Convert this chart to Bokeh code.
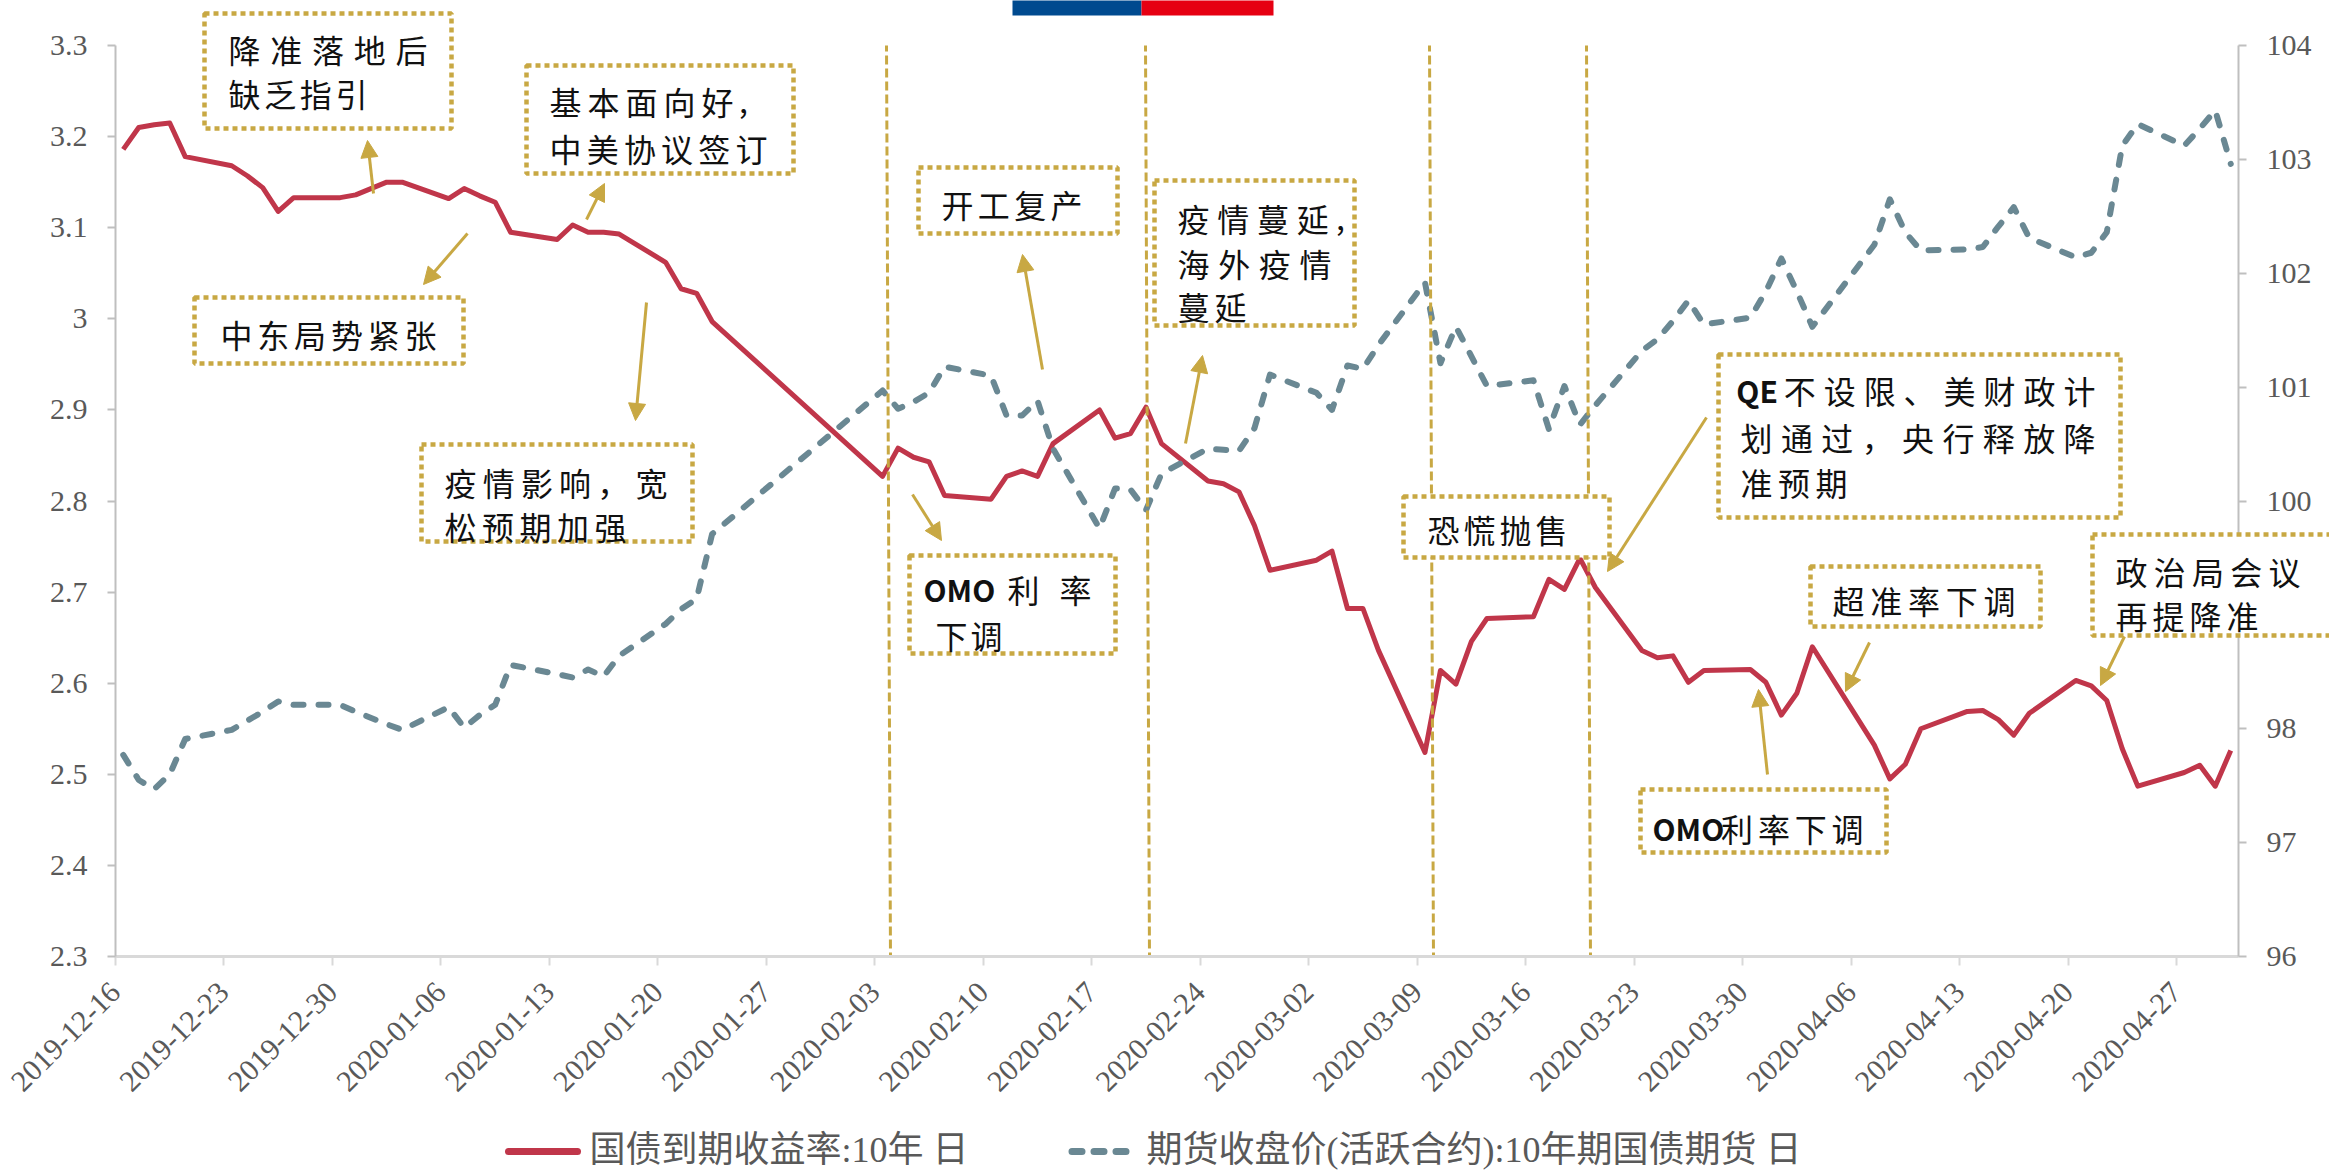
import pandas as pd
from math import pi
from bokeh.plotting import figure
from bokeh.models import (Range1d, LinearAxis, FixedTicker, DatetimeTickFormatter, CustomJSTickFormatter,
                          Arrow, NormalHead, ColumnDataSource)
from bokeh.core.properties import value
from bokeh.embed import file_html
from bokeh.resources import INLINE

# ---------------- data ----------------
dates = [
    "2019-12-16", "2019-12-17", "2019-12-18", "2019-12-19", "2019-12-20",
    "2019-12-23", "2019-12-24", "2019-12-25", "2019-12-26", "2019-12-27",
    "2019-12-30", "2019-12-31", "2020-01-02", "2020-01-03",
    "2020-01-06", "2020-01-07", "2020-01-08", "2020-01-09", "2020-01-10",
    "2020-01-13", "2020-01-14", "2020-01-15", "2020-01-16", "2020-01-17",
    "2020-01-20", "2020-01-21", "2020-01-22", "2020-01-23",
    "2020-02-03", "2020-02-04", "2020-02-05", "2020-02-06", "2020-02-07",
    "2020-02-10", "2020-02-11", "2020-02-12", "2020-02-13", "2020-02-14",
    "2020-02-17", "2020-02-18", "2020-02-19", "2020-02-20", "2020-02-21",
    "2020-02-24", "2020-02-25", "2020-02-26", "2020-02-27", "2020-02-28",
    "2020-03-02", "2020-03-03", "2020-03-04", "2020-03-05", "2020-03-06",
    "2020-03-09", "2020-03-10", "2020-03-11", "2020-03-12", "2020-03-13",
    "2020-03-16", "2020-03-17", "2020-03-18", "2020-03-19", "2020-03-20",
    "2020-03-23", "2020-03-24", "2020-03-25", "2020-03-26", "2020-03-27",
    "2020-03-30", "2020-03-31", "2020-04-01", "2020-04-02", "2020-04-03",
    "2020-04-07", "2020-04-08", "2020-04-09", "2020-04-10",
    "2020-04-13", "2020-04-14", "2020-04-15", "2020-04-16", "2020-04-17",
    "2020-04-20", "2020-04-21", "2020-04-22", "2020-04-23", "2020-04-24",
    "2020-04-27", "2020-04-28", "2020-04-29", "2020-04-30",
]

yield_10y = [
    3.186, 3.210, 3.213, 3.215, 3.178,
    3.168, 3.157, 3.144, 3.118, 3.133,
    3.133, 3.136, 3.150, 3.150,
    3.132, 3.143, 3.135, 3.128, 3.095,
    3.087, 3.103, 3.095, 3.095, 3.093,
    3.062, 3.033, 3.028, 2.997,
    2.827, 2.858, 2.848, 2.843, 2.806,
    2.802, 2.827, 2.833, 2.827, 2.863,
    2.900, 2.869, 2.874, 2.903, 2.863,
    2.822, 2.819, 2.810, 2.773, 2.724,
    2.735, 2.745, 2.682, 2.682, 2.636,
    2.524, 2.614, 2.599, 2.646, 2.671,
    2.673, 2.714, 2.703, 2.737, 2.705,
    2.636, 2.628, 2.630, 2.601, 2.614,
    2.615, 2.601, 2.565, 2.589, 2.640,
    2.532, 2.495, 2.511, 2.550,
    2.569, 2.570, 2.560, 2.543, 2.567,
    2.603, 2.597, 2.581, 2.528, 2.487,
    2.502, 2.510, 2.487, 2.526,
]

futures_10y = [
    97.77, 97.55, 97.47, 97.60, 97.91,
    97.99, 98.07, 98.15, 98.24, 98.21,
    98.21, 98.15, 98.04, 97.99,
    98.19, 98.01, 98.12, 98.21, 98.56,
    98.48, 98.45, 98.52, 98.46, 98.64,
    98.92, 99.05, 99.14, 99.71,
    100.97, 100.81, 100.87, 100.95, 101.18,
    101.10, 100.75, 100.75, 100.88, 100.46,
    99.76, 100.11, 100.10, 99.92, 100.24,
    100.46, 100.45, 100.44, 100.64, 101.11,
    100.95, 100.80, 101.19, 101.16, 101.37,
    101.92, 101.21, 101.53, 101.27, 101.01,
    101.06, 100.63, 101.01, 100.67, 100.84,
    101.32, 101.42, 101.58, 101.76, 101.55,
    101.61, 101.84, 102.13, 101.84, 101.53,
    102.25, 102.65, 102.36, 102.20,
    102.21, 102.23, 102.41, 102.58, 102.31,
    102.14, 102.18, 102.36, 103.12, 103.31,
    103.12, 103.27, 103.43, 102.96,
]

tick_dates = [
    "2019-12-16", "2019-12-23", "2019-12-30", "2020-01-06", "2020-01-13",
    "2020-01-20", "2020-01-27", "2020-02-03", "2020-02-10", "2020-02-17",
    "2020-02-24", "2020-03-02", "2020-03-09", "2020-03-16", "2020-03-23",
    "2020-03-30", "2020-04-06", "2020-04-13", "2020-04-20", "2020-04-27",
]
left_ticks = [2.3, 2.4, 2.5, 2.6, 2.7, 2.8, 2.9, 3.0, 3.1, 3.2, 3.3]
right_ticks = [96, 97, 98, 99, 100, 101, 102, 103, 104]
series_names = ["国债到期收益率:10年 日", "期货收盘价(活跃合约):10年期国债期货 日"]

# ---------------- styling / layout ----------------
RED = "#C0364A"
GREY = "#6A8893"
GOLD = "#C8A843"
AXIS_GREY = "#BFBFBF"
LABEL_GREY = "#595959"
CJK = "Noto Sans CJK SC"
SERIF_CJK = "'Liberation Serif', 'Noto Sans CJK SC'"

W, H = 2329, 1170
FL, FT = 115, 45
FW, FH = 2123, 911
MB_R = W - FL - FW
MB_B = H - FT - FH

def ms(s):
    return pd.Timestamp(s).value / 1e6

x0_ms = ms("2019-12-16")
x1_ms = ms("2020-05-01")
y_lo, y_hi = 2.3, 3.3

def X(px):  # page pixel -> data x (ms)
    return x0_ms + (px - FL) / FW * (x1_ms - x0_ms)

def Y(py):  # page pixel -> left-axis data value
    return y_hi - (py - FT) / FH * (y_hi - y_lo)

# points sit in the middle of each day slot
xs = [ms(d) + 12 * 3600 * 1000 for d in dates]

p = figure(width=W, height=H, x_axis_type="datetime",
           x_range=Range1d(x0_ms, x1_ms), y_range=Range1d(y_lo, y_hi),
           output_backend="svg", toolbar_location=None,
           min_border_left=FL, min_border_right=MB_R,
           min_border_top=FT, min_border_bottom=MB_B)
p.extra_y_ranges = {"right": Range1d(96, 104)}
p.outline_line_color = None
p.xgrid.visible = False
p.ygrid.visible = False
p.background_fill_color = "white"
p.border_fill_color = "white"

# axes
p.yaxis[0].ticker = FixedTicker(ticks=left_ticks)
p.yaxis[0].formatter = CustomJSTickFormatter(code="return (Math.round(tick*10)/10).toString();")

ax_r = LinearAxis(y_range_name="right", ticker=FixedTicker(ticks=right_ticks))
p.add_layout(ax_r, "right")

for ax in [p.yaxis[0], ax_r]:
    ax.axis_line_color = AXIS_GREY
    ax.axis_line_width = 2
    ax.major_tick_line_color = AXIS_GREY
    ax.major_tick_line_width = 2
    ax.major_tick_out = 8
    ax.major_tick_in = 0
    ax.minor_tick_line_color = None
    ax.major_label_text_font = "Liberation Serif"
    ax.major_label_text_font_size = "30px"
    ax.major_label_text_color = LABEL_GREY
    ax.major_label_standoff = 20

xa = p.xaxis[0]
xa.ticker = FixedTicker(ticks=[ms(d) for d in tick_dates])
xa.formatter = DatetimeTickFormatter(days="%Y-%m-%d", months="%Y-%m-%d", years="%Y-%m-%d")
xa.axis_line_color = "#D9D9D9"
xa.axis_line_width = 3
xa.major_tick_line_color = "#D9D9D9"
xa.major_tick_line_width = 2
xa.major_tick_out = 9
xa.major_tick_in = 0
xa.minor_tick_line_color = None
xa.major_label_orientation = pi / 4
xa.major_label_text_font = "Liberation Serif"
xa.major_label_text_font_size = "30px"
xa.major_label_text_color = LABEL_GREY
xa.major_label_standoff = 22

# series
r_red = p.line(xs, yield_10y, line_color=RED, line_width=5, line_join="round")
r_grey = p.line(xs, futures_10y, y_range_name="right", line_color=GREY, line_width=6,
                line_dash="10 15", line_cap="round", line_join="round")

# event lines (dashed gold verticals), page px: top x, bottom x
event_lines = [(886, 890), (1145, 1149), (1429, 1433), (1586, 1590)]
p.segment(x0=[X(a) for a, b in event_lines], y0=[Y(42)] * 4,
          x1=[X(b) for a, b in event_lines], y1=[Y(960)] * 4,
          line_color=GOLD, line_width=3, line_dash="9 4")

# arrows (page px tail -> tip)
arrows = [
    ((373, 193), (367, 140)),
    ((586, 219), (604, 183)),
    ((467, 233), (423, 284)),
    ((646, 302), (635, 420)),
    ((1042, 369), (1022, 254)),
    ((1185, 443), (1202, 355)),
    ((912, 494), (941, 540)),
    ((1706, 417), (1607, 571)),
    ((1869, 642), (1845, 691)),
    ((1767, 774), (1758, 689)),
    ((2124, 636), (2100, 685)),
]
for (tx, ty), (hx, hy) in arrows:
    p.add_layout(Arrow(end=NormalHead(size=17, fill_color=GOLD, line_color=GOLD, line_width=1),
                       x_start=X(tx), y_start=Y(ty), x_end=X(hx), y_end=Y(hy),
                       line_color=GOLD, line_width=3))

# top logo bar (overlay level so it is not clipped to the frame)
p.quad(left=[X(1012), X(1141)], right=[X(1141), X(1273)], top=[Y(0)] * 2, bottom=[Y(15)] * 2,
       fill_color=["#004A8F", "#E60012"], line_color=None, level="overlay")

# annotation boxes (page px left, right, top, bottom)
boxes = [
    (204, 451, 13, 128), (526, 793, 65, 173), (194, 463, 297, 363),
    (421, 692, 444, 541), (918, 1117, 167, 233), (1154, 1354, 180, 325),
    (909, 1115, 555, 653), (1403, 1609, 496, 557), (1718, 2120, 354, 517),
    (1810, 2040, 566, 626), (1640, 1886, 789, 852), (2092, 2345, 534, 635),
]
p.quad(left=[X(b[0]) for b in boxes], right=[X(b[1]) for b in boxes],
       top=[Y(b[2]) for b in boxes], bottom=[Y(b[3]) for b in boxes],
       fill_color="white", line_color=GOLD, line_width=4.5, line_dash="5 4", level="overlay")

# annotation text lines: tokens, left px, right px, centre y px
FS = 32
text_lines = [
    (list("降准落地后"), 228, 427, 48),
    (list("缺乏指引"), 228, 367, 92),
    (list("基本面向好") + [","], 549, 747, 100),
    (list("中美协议签订"), 549, 767, 147),
    (list("中东局势紧张"), 220, 436, 333),
    (list("疫情影响，宽"), 444, 667, 481),
    (list("松预期加强"), 444, 626, 525),
    (list("开工复产"), 941, 1082, 203),
    (list("疫情蔓延") + [","], 1177, 1344, 217),
    (list("海外疫情"), 1177, 1331, 262),
    (list("蔓延"), 1177, 1246, 305),
    (["OMO", "利", "率"], 931, 1091, 588),
    (list("下调"), 935, 1002, 634),
    (list("恐慌抛售"), 1427, 1567, 528),
    (["QE"] + list("不设限、美财政计"), 1738, 2095, 389),
    (list("划通过，央行释放降"), 1740, 2095, 436),
    (list("准预期"), 1740, 1847, 481),
    (list("超准率下调"), 1832, 2015, 599),
    (["OMO"] + list("利率下调"), 1660, 1863, 827),
    (list("政治局会议"), 2115, 2300, 570),
    (list("再提降准"), 2115, 2258, 614),
]

def tok_w(t):
    if t == ",":
        return 8
    if t.isascii():
        return len(t) * 0.62 * 30
    return FS

cjk = dict(x=[], y=[], text=[])
lat = dict(x=[], y=[], text=[])
for toks, xl, xr, yc in text_lines:
    widths = [tok_w(t) for t in toks]
    gap = (xr - xl - sum(widths)) / (len(toks) - 1) if len(toks) > 1 else 0
    cur = xl
    for t, w in zip(toks, widths):
        cx = cur + w / 2
        tgt = lat if (t.isascii() and t.isalpha()) else cjk
        tgt["x"].append(X(cx))
        tgt["y"].append(Y(yc))
        tgt["text"].append(t)
        cur += w + gap

p.text(x="x", y="y", text="text", source=ColumnDataSource(cjk),
       text_font=value(CJK), text_font_size=value(f"{FS}px"),
       text_color="#111111", text_align="center", text_baseline="middle", level="overlay")
p.text(x="x", y="y", text="text", source=ColumnDataSource(lat),
       text_font=value(CJK), text_font_size=value("30px"), text_font_style="bold",
       text_color="#111111", text_align="center", text_baseline="middle", level="overlay")

# legend below the axis (drawn as overlay glyphs so it is not clipped)
LEG_Y = 1151
p.segment(x0=[X(508)], y0=[Y(LEG_Y)], x1=[X(577)], y1=[Y(LEG_Y)],
          line_color=RED, line_width=7, line_cap="round", level="overlay")
p.segment(x0=[X(1071.5)], y0=[Y(LEG_Y)], x1=[X(1125.5)], y1=[Y(LEG_Y)],
          line_color=GREY, line_width=7, line_dash="10 12", line_cap="round", level="overlay")
p.text(x=[X(589), X(1146)], y=[Y(LEG_Y - 2)] * 2, text=series_names,
       text_font=value(SERIF_CJK), text_font_size=value("36px"), text_color=LABEL_GREY,
       text_align="left", text_baseline="middle", level="overlay")

open("out.html", "w").write(file_html(p, INLINE))
